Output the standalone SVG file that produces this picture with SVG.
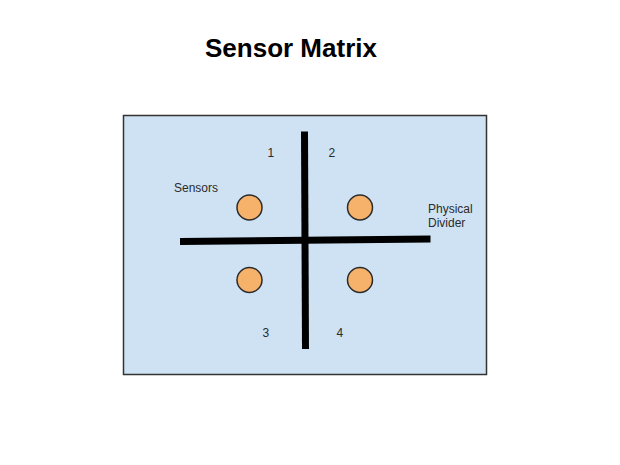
<svg xmlns="http://www.w3.org/2000/svg" width="620" height="465" viewBox="0 0 620 465">
<style>
.lbl{font-family:"Liberation Sans",Arial,sans-serif;font-size:12px;fill:#2b2b2b}
.sensor{fill:#f6b26b;stroke:#2b2b2b;stroke-width:1.5}
.divider{stroke:#000;stroke-width:7;fill:none}
</style>
<rect width="620" height="465" fill="#ffffff"/>
<text x="205" y="57" font-family="'Liberation Sans',Arial,sans-serif" font-size="26" font-weight="bold" fill="#000">Sensor Matrix</text>
<g id="matrix">
<rect x="123.5" y="115.5" width="363" height="259" fill="#cfe2f3" stroke="#333333" stroke-width="1.5"/>
</g>
<g id="connectors">
<line class="divider" x1="304.5" y1="131.5" x2="305.5" y2="349"/>
<line class="divider" x1="180" y1="241.5" x2="430.5" y2="239"/>
</g>
<g id="sensor1"><circle class="sensor" cx="249.5" cy="207.5" r="12.5"/></g>
<g id="sensor2"><circle class="sensor" cx="360" cy="207.5" r="12.5"/></g>
<g id="sensor3"><circle class="sensor" cx="249.5" cy="280" r="12.5"/></g>
<g id="sensor4"><circle class="sensor" cx="360" cy="280" r="12.5"/></g>
<g id="labels">
<text class="lbl" x="267.5" y="157">1</text>
<text class="lbl" x="328.5" y="157">2</text>
<text class="lbl" x="262.5" y="337">3</text>
<text class="lbl" x="336.5" y="337">4</text>
<text class="lbl" x="174" y="192">Sensors</text>
<text class="lbl" x="428" y="213">Physical</text>
<text class="lbl" x="428" y="227">Divider</text>
</g>
</svg>
